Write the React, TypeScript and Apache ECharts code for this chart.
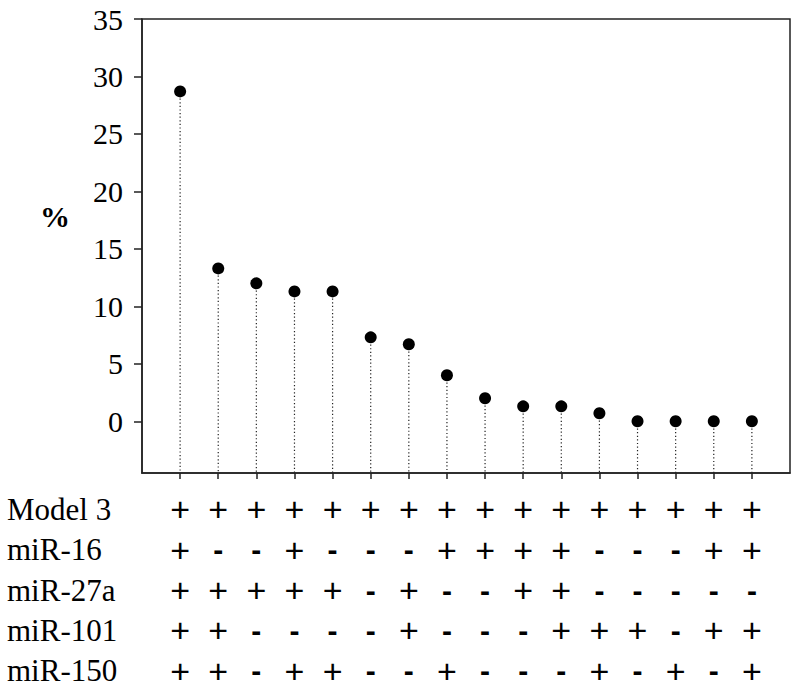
import React, { useEffect, useRef } from "react";
import * as echarts from "echarts";

const positions = [1, 2, 3, 4, 5, 6, 7, 8, 9, 10, 11, 12, 13, 14, 15, 16];
const percentValues = [28.7, 13.3, 12.0, 11.3, 11.3, 7.3, 6.7, 4.0, 2.0, 1.3, 1.3, 0.7, 0, 0, 0, 0];
const yTickValues = [0, 5, 10, 15, 20, 25, 30, 35];
const rowLabels = ["Model 3", "miR-16", "miR-27a", "miR-101", "miR-150"];
const model3Signs = "++++++++++++++++";
const mir16Signs = "+--+---++++---++";
const mir27aSigns = "+++++-+--++-----";
const mir101Signs = "++----+---+++-++";
const mir150Signs = "++-++--+---+-+-+";
const signRows = [model3Signs, mir16Signs, mir27aSigns, mir101Signs, mir150Signs];

const Y_MIN = -4.5;
const Y_MAX = 35;
const SERIF = '"Liberation Serif", "Times New Roman", serif';
const SANS = '"Liberation Sans", Arial, sans-serif';

export default function App() {
  const ref = useRef<HTMLDivElement>(null);
  useEffect(() => {
    if (!ref.current) return;
    const chart = echarts.init(ref.current, undefined, { renderer: "svg" });
    const pointData = positions.map((p, i) => [p, percentValues[i]]);
    const signData: any[] = [];
    signRows.forEach((row, r) => {
      row.split("").forEach((s, c) => {
        signData.push([positions[c], rowLabels[r], s]);
      });
    });
    chart.setOption({
      animation: false,
      backgroundColor: "#ffffff",
      grid: [
        {
          left: 142,
          right: 7,
          top: 19,
          bottom: 218,
          show: true,
          borderColor: "#222",
          borderWidth: 1.5,
          backgroundColor: "transparent",
        },
        { left: 142, right: 7, top: 489, height: 208.5 },
      ],
      xAxis: [
        {
          type: "value",
          gridIndex: 0,
          min: 0,
          max: 17,
          interval: 1,
          axisLine: { show: true, onZero: false, lineStyle: { color: "#222", width: 1.5 } },
          axisTick: {
            show: true,
            length: 6,
            lineStyle: { color: "#222", width: 1.5 },
            customValues: positions,
          },
          axisLabel: { show: false },
          splitLine: { show: false },
        },
        {
          type: "value",
          gridIndex: 1,
          min: 0,
          max: 17,
          show: false,
        },
      ],
      yAxis: [
        {
          type: "value",
          gridIndex: 0,
          min: Y_MIN,
          max: Y_MAX,
          axisLine: { show: true, onZero: false, lineStyle: { color: "#222", width: 1.5 } },
          axisTick: {
            show: true,
            length: 8,
            lineStyle: { color: "#222", width: 1.5 },
            customValues: yTickValues,
          },
          axisLabel: {
            show: true,
            customValues: yTickValues,
            margin: 19,
            color: "#000",
            fontFamily: SERIF,
            fontSize: 30,
            formatter: (v: number) => String(v),
          },
          splitLine: { show: false },
        },
        {
          type: "category",
          gridIndex: 1,
          data: rowLabels,
          inverse: true,
          axisLine: { show: false },
          axisTick: { show: false },
          splitLine: { show: false },
          axisLabel: {
            show: true,
            interval: 0,
            hideOverlap: false,
            align: "left",
            margin: 135,
            color: "#000",
            fontFamily: SERIF,
            fontSize: 31,
          },
        },
      ],
      graphic: [
        {
          type: "text",
          left: 40,
          top: 201,
          style: {
            text: "%",
            fontFamily: SERIF,
            fontWeight: "bold",
            fontSize: 30,
            fill: "#000",
          },
        },
      ],
      series: [
        {
          type: "custom",
          xAxisIndex: 0,
          yAxisIndex: 0,
          data: pointData,
          z: 2,
          renderItem: (params: any, api: any) => {
            const x = api.value(0);
            const y = api.value(1);
            const p1 = api.coord([x, y]);
            const p2 = api.coord([x, Y_MIN]);
            return {
              type: "line",
              shape: { x1: p1[0], y1: p1[1], x2: p2[0], y2: p2[1] },
              style: { stroke: "#222", lineWidth: 1.2, lineDash: [1.2, 2.4] },
            };
          },
        },
        {
          type: "scatter",
          xAxisIndex: 0,
          yAxisIndex: 0,
          data: pointData,
          symbol: "circle",
          symbolSize: 12,
          itemStyle: { color: "#000", opacity: 1 },
          z: 5,
        },
        {
          type: "custom",
          xAxisIndex: 1,
          yAxisIndex: 1,
          data: signData,
          renderItem: (params: any, api: any) => {
            const x = api.value(0);
            const rowIdx = api.value(1);
            const sign = signData[params.dataIndex][2];
            const p = api.coord([x, rowIdx]);
            const isPlus = sign === "+";
            return {
              type: "text",
              x: p[0],
              y: p[1],
              style: {
                text: sign,
                fontFamily: SANS,
                fontSize: isPlus ? 34 : 30,
                fontWeight: isPlus ? "normal" : "bold",
                fill: "#000",
                align: "center",
                verticalAlign: "middle",
              },
            };
          },
        },
      ],
    });
    return () => chart.dispose();
  }, []);
  return (
    <div
      ref={ref}
      style={{ position: "absolute", left: 0, top: 0, width: 797, height: 691 }}
    />
  );
}
